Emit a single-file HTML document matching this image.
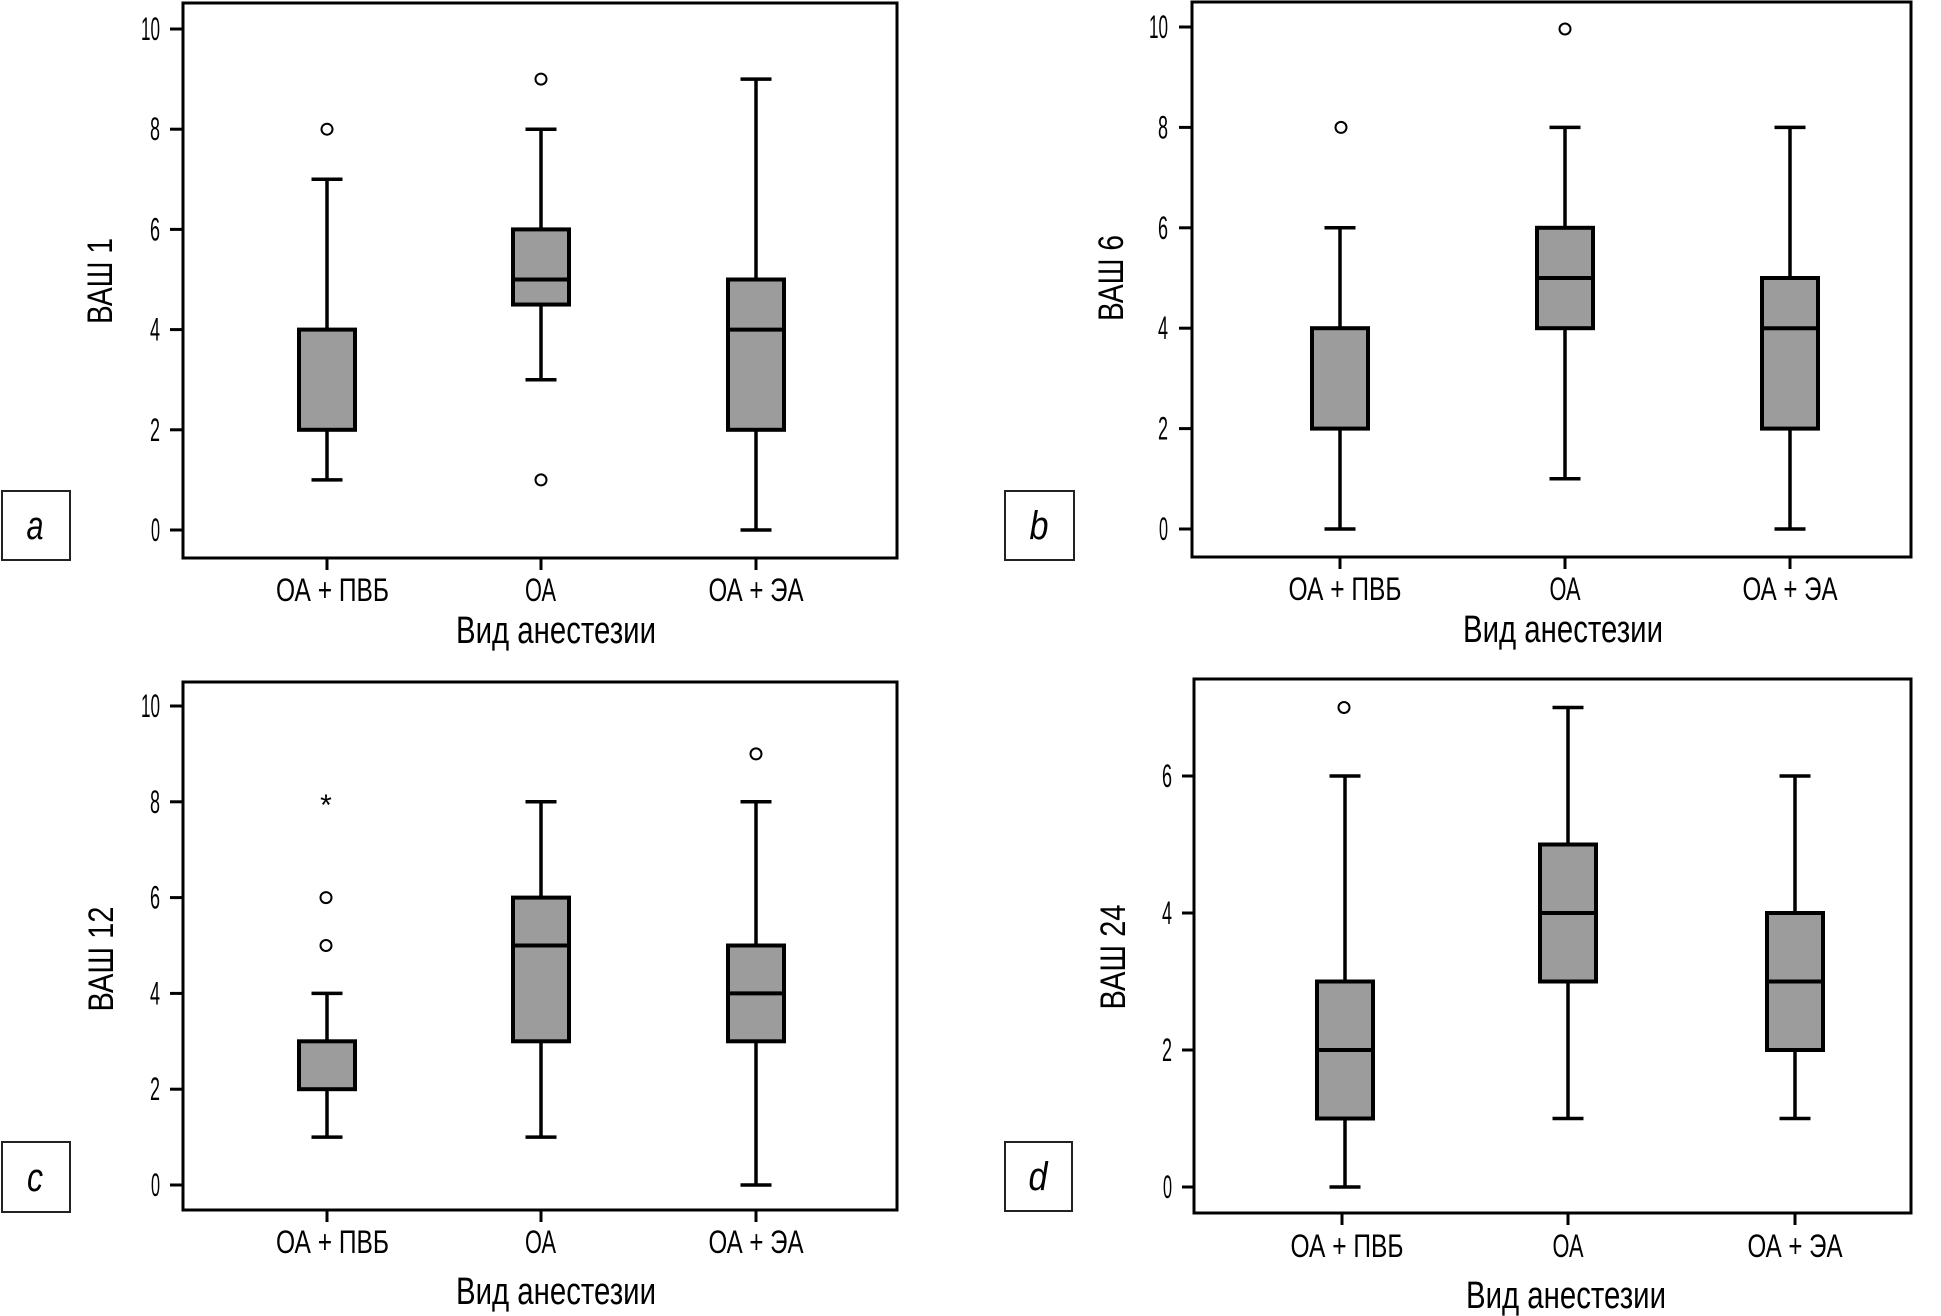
<!DOCTYPE html>
<html>
<head>
<meta charset="utf-8">
<style>
html,body{margin:0;padding:0;background:#fff;}
svg{display:block;}
text{font-family:"Liberation Sans Narrow","Liberation Sans","DejaVu Sans",sans-serif;fill:#000;}
.tk{font-size:32px;}
.cat{font-size:32px;}
.ttl{font-size:38px;}
.yl{font-size:35px;}
.lt{font-size:40px;font-style:italic;}
.frame{fill:none;stroke:#000;stroke-width:3;}
.tick{stroke:#000;stroke-width:3;}
.wh{stroke:#000;stroke-width:3.5;}
.box{fill:#9c9c9c;stroke:#000;stroke-width:4;}
.med{stroke:#000;stroke-width:4;}
.out{fill:none;stroke:#000;stroke-width:2;}
.lb{fill:#fff;stroke:#222;stroke-width:2;}
</style>
</head>
<body>
<svg width="1941" height="1316" viewBox="0 0 1941 1316" xmlns="http://www.w3.org/2000/svg">

<!-- ================= PLOT A ================= -->
<rect class="frame" x="183" y="3" width="714" height="555"/>
<g class="tick">
<line x1="170" y1="530" x2="183" y2="530"/>
<line x1="170" y1="429.8" x2="183" y2="429.8"/>
<line x1="170" y1="329.6" x2="183" y2="329.6"/>
<line x1="170" y1="229.4" x2="183" y2="229.4"/>
<line x1="170" y1="129.2" x2="183" y2="129.2"/>
<line x1="170" y1="29" x2="183" y2="29"/>
<line x1="327" y1="558" x2="327" y2="570"/>
<line x1="541" y1="558" x2="541" y2="570"/>
<line x1="756" y1="558" x2="756" y2="570"/>
</g>
<g class="tk" text-anchor="end">
<text x="160" y="541" textLength="9" lengthAdjust="spacingAndGlyphs">0</text>
<text x="160" y="440.8" textLength="10" lengthAdjust="spacingAndGlyphs">2</text>
<text x="160" y="340.6" textLength="10" lengthAdjust="spacingAndGlyphs">4</text>
<text x="160" y="240.4" textLength="10" lengthAdjust="spacingAndGlyphs">6</text>
<text x="160" y="140.2" textLength="10" lengthAdjust="spacingAndGlyphs">8</text>
<text x="160" y="40" textLength="19" lengthAdjust="spacingAndGlyphs">10</text>
</g>
<line class="wh" x1="327" y1="479.9" x2="327" y2="179.3"/>
<line class="wh" x1="311.5" y1="479.9" x2="342.5" y2="479.9"/>
<line class="wh" x1="311.5" y1="179.3" x2="342.5" y2="179.3"/>
<rect class="box" x="299" y="329.6" width="56" height="100.2"/>
<circle class="out" cx="327" cy="129.2" r="5.5"/>
<line class="wh" x1="541" y1="379.7" x2="541" y2="129.2"/>
<line class="wh" x1="525.5" y1="379.7" x2="556.5" y2="379.7"/>
<line class="wh" x1="525.5" y1="129.2" x2="556.5" y2="129.2"/>
<rect class="box" x="513" y="229.4" width="56" height="75.15"/>
<line class="med" x1="513" y1="279.5" x2="569" y2="279.5"/>
<circle class="out" cx="541" cy="79.1" r="5.5"/>
<circle class="out" cx="541" cy="479.9" r="5.5"/>
<line class="wh" x1="756" y1="530" x2="756" y2="79.1"/>
<line class="wh" x1="740.5" y1="530" x2="771.5" y2="530"/>
<line class="wh" x1="740.5" y1="79.1" x2="771.5" y2="79.1"/>
<rect class="box" x="728" y="279.5" width="56" height="150.3"/>
<line class="med" x1="728" y1="329.6" x2="784" y2="329.6"/>
<text class="cat" x="332.5" y="601" text-anchor="middle" textLength="113" lengthAdjust="spacingAndGlyphs">ОА + ПВБ</text>
<text class="cat" x="540.5" y="601" text-anchor="middle" textLength="31" lengthAdjust="spacingAndGlyphs">ОА</text>
<text class="cat" x="756" y="601" text-anchor="middle" textLength="95" lengthAdjust="spacingAndGlyphs">ОА + ЭА</text>
<text class="ttl" x="556" y="643" text-anchor="middle" textLength="200" lengthAdjust="spacingAndGlyphs">Вид анестезии</text>
<text class="yl" transform="translate(112,281) rotate(-90)" text-anchor="middle" textLength="86" lengthAdjust="spacingAndGlyphs">ВАШ 1</text>
<rect class="lb" x="2" y="491" width="68" height="69"/>
<text class="lt" x="35" y="539" text-anchor="middle" textLength="17" lengthAdjust="spacingAndGlyphs">a</text>

<!-- ================= PLOT B ================= -->
<rect class="frame" x="1192" y="2" width="719" height="555"/>
<g class="tick">
<line x1="1179" y1="529" x2="1192" y2="529"/>
<line x1="1179" y1="428.6" x2="1192" y2="428.6"/>
<line x1="1179" y1="328.2" x2="1192" y2="328.2"/>
<line x1="1179" y1="227.8" x2="1192" y2="227.8"/>
<line x1="1179" y1="127.4" x2="1192" y2="127.4"/>
<line x1="1179" y1="27" x2="1192" y2="27"/>
<line x1="1340" y1="557" x2="1340" y2="569"/>
<line x1="1565" y1="557" x2="1565" y2="569"/>
<line x1="1790" y1="557" x2="1790" y2="569"/>
</g>
<g class="tk" text-anchor="end">
<text x="1168" y="540" textLength="9" lengthAdjust="spacingAndGlyphs">0</text>
<text x="1168" y="439.6" textLength="10" lengthAdjust="spacingAndGlyphs">2</text>
<text x="1168" y="339.2" textLength="10" lengthAdjust="spacingAndGlyphs">4</text>
<text x="1168" y="238.8" textLength="10" lengthAdjust="spacingAndGlyphs">6</text>
<text x="1168" y="138.4" textLength="10" lengthAdjust="spacingAndGlyphs">8</text>
<text x="1168" y="38" textLength="19" lengthAdjust="spacingAndGlyphs">10</text>
</g>
<line class="wh" x1="1340" y1="529" x2="1340" y2="227.8"/>
<line class="wh" x1="1324.5" y1="529" x2="1355.5" y2="529"/>
<line class="wh" x1="1324.5" y1="227.8" x2="1355.5" y2="227.8"/>
<rect class="box" x="1312" y="328.2" width="56" height="100.4"/>
<circle class="out" cx="1341" cy="127.4" r="5.5"/>
<line class="wh" x1="1565" y1="478.8" x2="1565" y2="127.4"/>
<line class="wh" x1="1549.5" y1="478.8" x2="1580.5" y2="478.8"/>
<line class="wh" x1="1549.5" y1="127.4" x2="1580.5" y2="127.4"/>
<rect class="box" x="1537" y="227.8" width="56" height="100.4"/>
<line class="med" x1="1537" y1="278" x2="1593" y2="278"/>
<circle class="out" cx="1565" cy="29" r="5.5"/>
<line class="wh" x1="1790" y1="529" x2="1790" y2="127.4"/>
<line class="wh" x1="1774.5" y1="529" x2="1805.5" y2="529"/>
<line class="wh" x1="1774.5" y1="127.4" x2="1805.5" y2="127.4"/>
<rect class="box" x="1762" y="278" width="56" height="150.6"/>
<line class="med" x1="1762" y1="328.2" x2="1818" y2="328.2"/>
<text class="cat" x="1345" y="600" text-anchor="middle" textLength="113" lengthAdjust="spacingAndGlyphs">ОА + ПВБ</text>
<text class="cat" x="1565" y="600" text-anchor="middle" textLength="31" lengthAdjust="spacingAndGlyphs">ОА</text>
<text class="cat" x="1790" y="600" text-anchor="middle" textLength="95" lengthAdjust="spacingAndGlyphs">ОА + ЭА</text>
<text class="ttl" x="1563" y="642" text-anchor="middle" textLength="200" lengthAdjust="spacingAndGlyphs">Вид анестезии</text>
<text class="yl" transform="translate(1123,278) rotate(-90)" text-anchor="middle" textLength="86" lengthAdjust="spacingAndGlyphs">ВАШ 6</text>
<rect class="lb" x="1005" y="491" width="69" height="69"/>
<text class="lt" x="1039" y="539" text-anchor="middle" textLength="19" lengthAdjust="spacingAndGlyphs">b</text>

<!-- ================= PLOT C ================= -->
<rect class="frame" x="183" y="682" width="714" height="528"/>
<g class="tick">
<line x1="170" y1="1185" x2="183" y2="1185"/>
<line x1="170" y1="1089.2" x2="183" y2="1089.2"/>
<line x1="170" y1="993.4" x2="183" y2="993.4"/>
<line x1="170" y1="897.6" x2="183" y2="897.6"/>
<line x1="170" y1="801.8" x2="183" y2="801.8"/>
<line x1="170" y1="706" x2="183" y2="706"/>
<line x1="327" y1="1210" x2="327" y2="1222"/>
<line x1="541" y1="1210" x2="541" y2="1222"/>
<line x1="756" y1="1210" x2="756" y2="1222"/>
</g>
<g class="tk" text-anchor="end">
<text x="160" y="1196" textLength="9" lengthAdjust="spacingAndGlyphs">0</text>
<text x="160" y="1100.2" textLength="10" lengthAdjust="spacingAndGlyphs">2</text>
<text x="160" y="1004.4" textLength="10" lengthAdjust="spacingAndGlyphs">4</text>
<text x="160" y="908.6" textLength="10" lengthAdjust="spacingAndGlyphs">6</text>
<text x="160" y="812.8" textLength="10" lengthAdjust="spacingAndGlyphs">8</text>
<text x="160" y="717" textLength="19" lengthAdjust="spacingAndGlyphs">10</text>
</g>
<line class="wh" x1="327" y1="1137.1" x2="327" y2="993.4"/>
<line class="wh" x1="311.5" y1="1137.1" x2="342.5" y2="1137.1"/>
<line class="wh" x1="311.5" y1="993.4" x2="342.5" y2="993.4"/>
<rect class="box" x="299" y="1041.3" width="56" height="47.9"/>
<circle class="out" cx="326" cy="897.6" r="5.5"/>
<circle class="out" cx="326" cy="945.5" r="5.5"/>
<text x="326" y="815" text-anchor="middle" style="font-size:30px;font-family:'Liberation Sans',sans-serif;">*</text>
<line class="wh" x1="541" y1="1137.1" x2="541" y2="801.8"/>
<line class="wh" x1="525.5" y1="1137.1" x2="556.5" y2="1137.1"/>
<line class="wh" x1="525.5" y1="801.8" x2="556.5" y2="801.8"/>
<rect class="box" x="513" y="897.6" width="56" height="143.7"/>
<line class="med" x1="513" y1="945.5" x2="569" y2="945.5"/>
<line class="wh" x1="756" y1="1185" x2="756" y2="801.8"/>
<line class="wh" x1="740.5" y1="1185" x2="771.5" y2="1185"/>
<line class="wh" x1="740.5" y1="801.8" x2="771.5" y2="801.8"/>
<rect class="box" x="728" y="945.5" width="56" height="95.8"/>
<line class="med" x1="728" y1="993.4" x2="784" y2="993.4"/>
<circle class="out" cx="756" cy="753.9" r="5.5"/>
<text class="cat" x="332.5" y="1253" text-anchor="middle" textLength="113" lengthAdjust="spacingAndGlyphs">ОА + ПВБ</text>
<text class="cat" x="540.5" y="1253" text-anchor="middle" textLength="31" lengthAdjust="spacingAndGlyphs">ОА</text>
<text class="cat" x="756" y="1253" text-anchor="middle" textLength="95" lengthAdjust="spacingAndGlyphs">ОА + ЭА</text>
<text class="ttl" x="556" y="1304" text-anchor="middle" textLength="200" lengthAdjust="spacingAndGlyphs">Вид анестезии</text>
<text class="yl" transform="translate(113,959) rotate(-90)" text-anchor="middle" textLength="105" lengthAdjust="spacingAndGlyphs">ВАШ 12</text>
<rect class="lb" x="2" y="1142" width="68" height="70"/>
<text class="lt" x="35" y="1191" text-anchor="middle" textLength="16" lengthAdjust="spacingAndGlyphs">c</text>

<!-- ================= PLOT D ================= -->
<rect class="frame" x="1194" y="679" width="717" height="534"/>
<g class="tick">
<line x1="1182" y1="1187" x2="1194" y2="1187"/>
<line x1="1182" y1="1050" x2="1194" y2="1050"/>
<line x1="1182" y1="913" x2="1194" y2="913"/>
<line x1="1182" y1="776" x2="1194" y2="776"/>
<line x1="1342" y1="1213" x2="1342" y2="1225"/>
<line x1="1568" y1="1213" x2="1568" y2="1225"/>
<line x1="1795" y1="1213" x2="1795" y2="1225"/>
</g>
<g class="tk" text-anchor="end">
<text x="1172" y="1198" textLength="9" lengthAdjust="spacingAndGlyphs">0</text>
<text x="1172" y="1061" textLength="10" lengthAdjust="spacingAndGlyphs">2</text>
<text x="1172" y="924" textLength="10" lengthAdjust="spacingAndGlyphs">4</text>
<text x="1172" y="787" textLength="10" lengthAdjust="spacingAndGlyphs">6</text>
</g>
<line class="wh" x1="1345" y1="1187" x2="1345" y2="776"/>
<line class="wh" x1="1329.5" y1="1187" x2="1360.5" y2="1187"/>
<line class="wh" x1="1329.5" y1="776" x2="1360.5" y2="776"/>
<rect class="box" x="1317" y="981.5" width="56" height="137"/>
<line class="med" x1="1317" y1="1050" x2="1373" y2="1050"/>
<circle class="out" cx="1344" cy="707.5" r="5.5"/>
<line class="wh" x1="1568" y1="1118.5" x2="1568" y2="707.5"/>
<line class="wh" x1="1552.5" y1="1118.5" x2="1583.5" y2="1118.5"/>
<line class="wh" x1="1552.5" y1="707.5" x2="1583.5" y2="707.5"/>
<rect class="box" x="1540" y="844.5" width="56" height="137"/>
<line class="med" x1="1540" y1="913" x2="1596" y2="913"/>
<line class="wh" x1="1795" y1="1118.5" x2="1795" y2="776"/>
<line class="wh" x1="1779.5" y1="1118.5" x2="1810.5" y2="1118.5"/>
<line class="wh" x1="1779.5" y1="776" x2="1810.5" y2="776"/>
<rect class="box" x="1767" y="913" width="56" height="137"/>
<line class="med" x1="1767" y1="981.5" x2="1823" y2="981.5"/>
<text class="cat" x="1347" y="1257" text-anchor="middle" textLength="113" lengthAdjust="spacingAndGlyphs">ОА + ПВБ</text>
<text class="cat" x="1568" y="1257" text-anchor="middle" textLength="31" lengthAdjust="spacingAndGlyphs">ОА</text>
<text class="cat" x="1795" y="1257" text-anchor="middle" textLength="95" lengthAdjust="spacingAndGlyphs">ОА + ЭА</text>
<text class="ttl" x="1566" y="1308" text-anchor="middle" textLength="200" lengthAdjust="spacingAndGlyphs">Вид анестезии</text>
<text class="yl" transform="translate(1125,957) rotate(-90)" text-anchor="middle" textLength="105" lengthAdjust="spacingAndGlyphs">ВАШ 24</text>
<rect class="lb" x="1005" y="1142" width="67" height="69"/>
<text class="lt" x="1038" y="1190" text-anchor="middle" textLength="19" lengthAdjust="spacingAndGlyphs">d</text>

</svg>
</body>
</html>
